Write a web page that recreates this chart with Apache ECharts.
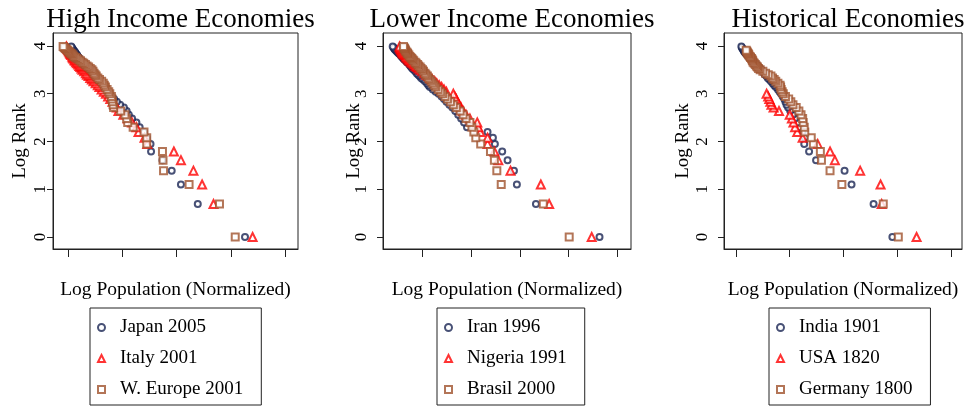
<!DOCTYPE html>
<html><head><meta charset="utf-8">
<script src="https://cdn.jsdelivr.net/npm/echarts@6/dist/echarts.min.js"></script>
<style>html,body{margin:0;padding:0;background:#fff}#c{width:965px;height:409px}</style>
</head><body><div id="c"></div>
<script>
// log(rank) for ranks 1..54
const logRank = [0,0.69,1.10,1.39,1.61,1.79,1.95,2.08,2.20,2.30,2.40,2.48,2.56,2.64,2.71,2.77,2.83,2.89,2.94,3.00,3.04,3.09,3.14,3.18,3.22,3.26,3.30,3.33,3.37,3.40,3.43,3.47,3.50,3.53,3.56,3.58,3.61,3.64,3.66,3.69,3.71,3.74,3.76,3.78,3.81,3.83,3.85,3.87,3.89,3.91,3.93,3.95,3.97,3.99];

const panelTitles = ['High Income Economies','Lower Income Economies','Historical Economies'];
const seriesNames = [['Japan 2005','Italy 2001','W. Europe 2001'],['Iran 1996','Nigeria 1991','Brasil 2000'],['India 1901','USA 1820','Germany 1800']];
const xTicks = [0,1,2,3,4];
const yTicks = [0,1,2,3,4];

// Log population (normalized), ordered by rank
const japanX = [3.26,2.39,2.08,1.91,1.74,1.53,1.52,1.45,1.40,1.32,1.26,1.18,1.12,1.08,1.03,0.96,0.90,0.85,0.80,0.76,0.72,0.68,0.63,0.60,0.57,0.54,0.51,0.49,0.47,0.45,0.43,0.40,0.38,0.36,0.34,0.32,0.30,0.28,0.26,0.25,0.23,0.21,0.20,0.18,0.17,0.15,0.14,0.13,0.12,0.10,0.09,0.08,0.07,0.06];
const italyX = [3.40,2.68,2.47,2.31,2.08,1.95,1.46,1.41,1.30,1.26,1.18,1.10,1.02,0.93,0.90,0.86,0.82,0.78,0.74,0.70,0.66,0.62,0.58,0.55,0.51,0.47,0.44,0.41,0.38,0.35,0.33,0.30,0.27,0.25,0.23,0.21,0.19,0.17,0.15,0.13,0.12,0.10,0.09,0.08,0.06,0.05,0.04,0.03,0.02,0.01,0.00,-0.01,-0.02,-0.03];
const weuropeX = [3.08,2.79,2.23,1.76,1.75,1.74,1.45,1.45,1.40,1.20,1.10,1.08,1.05,0.97,0.84,0.83,0.82,0.81,0.80,0.77,0.75,0.72,0.69,0.67,0.65,0.62,0.58,0.55,0.52,0.50,0.48,0.46,0.44,0.41,0.38,0.35,0.32,0.29,0.26,0.23,0.20,0.17,0.14,0.11,0.09,0.07,0.05,0.03,0.01,-0.01,-0.03,-0.05,-0.07,-0.09];

const iranX = [3.63,2.33,1.94,1.88,1.75,1.64,1.49,1.45,1.34,0.92,0.86,0.80,0.74,0.68,0.62,0.56,0.50,0.45,0.40,0.34,0.28,0.22,0.16,0.13,0.10,0.06,0.02,-0.02,-0.05,-0.08,-0.11,-0.14,-0.17,-0.20,-0.22,-0.24,-0.26,-0.28,-0.31,-0.33,-0.36,-0.38,-0.40,-0.42,-0.44,-0.46,-0.48,-0.50,-0.52,-0.54,-0.56,-0.57,-0.58,-0.60];
const nigeriaX = [3.47,2.60,2.43,1.81,1.56,1.48,1.34,1.34,1.19,1.15,1.13,0.98,0.90,0.84,0.80,0.76,0.72,0.70,0.67,0.64,0.50,0.45,0.40,0.35,0.30,0.26,0.21,0.17,0.13,0.09,0.05,0.01,-0.03,-0.07,-0.10,-0.13,-0.16,-0.19,-0.22,-0.25,-0.27,-0.29,-0.31,-0.33,-0.35,-0.37,-0.39,-0.40,-0.41,-0.42,-0.43,-0.44,-0.45,-0.46];
const brasilX = [3.01,2.48,1.62,1.53,1.48,1.40,1.20,1.10,1.06,1.02,0.98,0.90,0.84,0.78,0.70,0.64,0.58,0.52,0.47,0.42,0.38,0.33,0.28,0.25,0.22,0.19,0.16,0.13,0.11,0.08,0.06,0.03,0.01,-0.02,-0.04,-0.07,-0.09,-0.12,-0.14,-0.17,-0.19,-0.21,-0.23,-0.25,-0.27,-0.29,-0.30,-0.31,-0.33,-0.34,-0.35,-0.36,-0.37,-0.38];

const indiaX = [2.91,2.56,2.15,2.02,1.49,1.36,1.27,1.28,1.24,1.18,1.15,1.10,1.06,1.01,0.97,0.94,0.92,0.90,0.87,0.84,0.81,0.78,0.74,0.71,0.68,0.65,0.62,0.59,0.57,0.54,0.52,0.50,0.47,0.45,0.42,0.40,0.38,0.35,0.33,0.31,0.29,0.27,0.25,0.23,0.21,0.19,0.18,0.16,0.15,0.14,0.13,0.12,0.11,0.10];
const usaX = [3.36,2.71,2.69,2.31,1.84,1.75,1.52,1.24,1.14,1.10,1.07,1.04,1.00,0.80,0.70,0.66,0.64,0.62,0.60,0.57];
const germanyX = [3.02,2.74,1.97,1.75,1.59,1.57,1.44,1.40,1.28,1.27,1.25,1.24,1.21,1.17,1.12,1.06,1.02,0.98,0.92,0.88,0.86,0.84,0.83,0.82,0.78,0.74,0.71,0.68,0.65,0.60,0.55,0.50,0.45,0.42,0.40,0.38,0.36,0.34,0.32,0.31,0.30,0.29,0.27,0.26,0.24,0.23,0.22,0.21,0.20,0.19];

const panelX = [[japanX,italyX,weuropeX],[iranX,nigeriaX,brasilX],[indiaX,usaX,germanyX]];

const colors = ['#1a2654','#ff0000','#a0522d'];
const symbols = ['emptyCircle','emptyTriangle','emptyRect'];
const symSizes = [6,8,7];

const FONT = '"Liberation Serif","Times New Roman",serif';
const grids = [
  {left:53, top:33, width:245, height:216},
  {left:383, top:33, width:248, height:216},
  {left:724, top:33, width:238, height:216}
];
const xRanges = [[-0.276,4.236],[-0.798,4.274],[-0.223,4.205]];
const yRange = [-0.251,4.272];
const yLabelMargin = [4,13,13];
const yNameGap = [23,19,31];
const legendLeft = [90,437,769];

const option = {
  animation:false,
  title:[], grid:[], xAxis:[], yAxis:[], legend:[], series:[]
};
for (let p=0;p<3;p++){
  const g = grids[p];
  option.title.push({text:panelTitles[p], left:g.left+g.width/2, textAlign:'center', top:1,
    textStyle:{fontFamily:FONT,fontSize:27,fontWeight:'normal',color:'#000'}});
  option.grid.push({left:g.left, top:g.top, width:g.width, height:g.height, show:true, borderColor:'#222', borderWidth:1, containLabel:false});
  option.xAxis.push({type:'value', gridIndex:p, min:xRanges[p][0], max:xRanges[p][1],
    name:'Log Population (Normalized)', nameLocation:'middle', nameGap:31, nameMoveOverlap:false,
    nameTextStyle:{fontFamily:FONT,fontSize:19.5,color:'#000'},
    axisLine:{show:true,onZero:false,lineStyle:{color:'#222'}},
    axisTick:{show:true,inside:false,length:8,customValues:xTicks,lineStyle:{color:'#222'}},
    axisLabel:{show:false}, splitLine:{show:false}});
  option.yAxis.push({type:'value', gridIndex:p, min:yRange[0], max:yRange[1],
    name:'Log Rank', nameLocation:'middle', nameGap:yNameGap[p], nameRotate:90, nameMoveOverlap:false,
    nameTextStyle:{fontFamily:FONT,fontSize:19,color:'#000'},
    axisLine:{show:true,onZero:false,lineStyle:{color:'#222'}},
    axisTick:{show:true,inside:false,length:6,customValues:yTicks,lineStyle:{color:'#222'}},
    axisLabel:{show:true,rotate:90,margin:yLabelMargin[p],customValues:yTicks,fontFamily:FONT,fontSize:17,color:'#000'},
    splitLine:{show:false}});
  option.legend.push({orient:'vertical', left:legendLeft[p], top:308, data:seriesNames[p],
    backgroundColor:'#fff', borderColor:'#222', borderWidth:1, borderRadius:0,
    padding:[10,18,6,7], itemGap:12, itemWidth:7, itemHeight:7,
    textStyle:{fontFamily:FONT,fontSize:19,lineHeight:19,color:'#000',padding:[0,0,0,10]}});
  for (let s=0;s<3;s++){
    const xs = panelX[p][s];
    option.series.push({type:'scatter', name:seriesNames[p][s], xAxisIndex:p, yAxisIndex:p,
      symbol:symbols[s], symbolSize:symSizes[s],
      itemStyle:{color:colors[s], borderColor:colors[s], borderWidth:1.5},
      data: xs.map((x,i)=>[x, logRank[i]])});
  }
}
const chart = echarts.init(document.getElementById('c'), null, {renderer:'canvas'});
chart.setOption(option);
</script>
</body></html>
